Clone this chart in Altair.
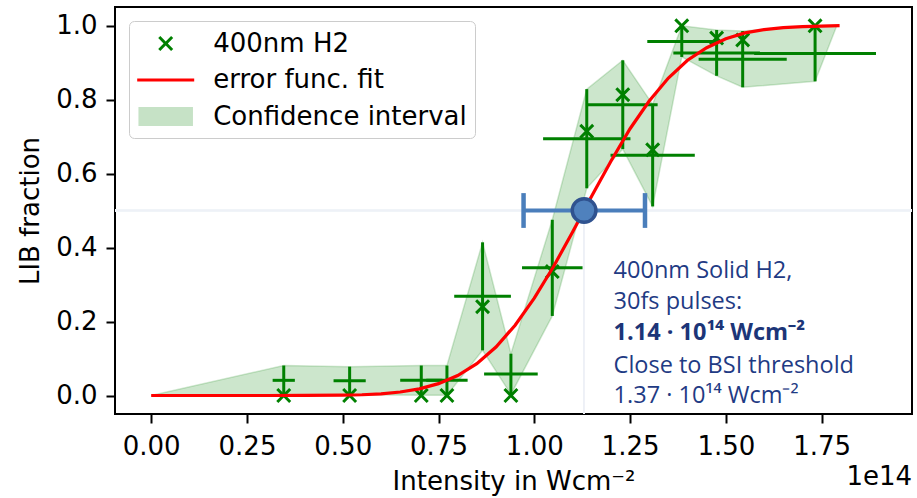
import altair as alt
import pandas as pd

# ---- measured data (intensity in units of 1e14 W/cm^2) ----
x_vals   = [0.346, 0.518, 0.705, 0.772, 0.865, 0.939, 1.047, 1.137, 1.231, 1.309, 1.385, 1.476, 1.544, 1.733]
marker_y = [0.0, 0.0, 0.0, 0.0, 0.24, 0.0, 0.335, 0.714, 0.813, 0.664, 0.999, 0.966, 0.961, 0.999]
bar_y    = [0.041, 0.040, 0.041, 0.041, 0.268, 0.058, 0.345, 0.694, 0.786, 0.649, 0.957, 0.926, 0.909, 0.924]
y_err    = [0.040, 0.038, 0.040, 0.040, 0.146, 0.055, 0.130, 0.134, 0.120, 0.138, 0.042, 0.062, 0.076, 0.075]
x_err    = [0.029, 0.042, 0.055, 0.054, 0.074, 0.070, 0.079, 0.114, 0.091, 0.110, 0.090, 0.113, 0.115, 0.159]

# confidence band end points
band_start_x, band_start_y = 0.0, 0.0
band_end_x, band_end_y = 1.79, 1.0

# error function fit
fit_x = [0.0, 0.1, 0.2, 0.3, 0.4, 0.5, 0.55, 0.6, 0.65, 0.7, 0.75, 0.8, 0.85, 0.9, 0.95,
         1.0, 1.05, 1.1, 1.15, 1.2, 1.25, 1.3, 1.35, 1.4, 1.45, 1.5, 1.55, 1.6, 1.65, 1.7, 1.797]
fit_y = [0.0, 0.0, 0.0, 0.0, 0.0002, 0.001, 0.002, 0.0044, 0.0095, 0.018, 0.032, 0.054, 0.086, 0.131, 0.19,
         0.263, 0.348, 0.442, 0.539, 0.633, 0.721, 0.796, 0.858, 0.906, 0.94, 0.964, 0.98, 0.989, 0.994, 0.997, 0.9995]

# threshold marker
thr_x, thr_y = 1.13, 0.5
thr_lo, thr_hi = 0.972, 1.289

legend_labels = ["400nm H2", "error func. fit", "Confidence interval"]
x_ticks = [0.0, 0.25, 0.5, 0.75, 1.0, 1.25, 1.5, 1.75]
y_ticks = [0.0, 0.2, 0.4, 0.6, 0.8, 1.0]

ann_lines = ["400nm Solid H2,", "30fs pulses:", "1.14 · 10¹⁴ Wcm⁻²", "Close to BSI threshold", "1.37 · 10¹⁴ Wcm⁻²"]
ann_y = [0.336, 0.252, 0.170, 0.080, -0.001]
ann_bold = [False, False, True, False, False]
ann_x = 1.207

# ---- tables ----
pts = pd.DataFrame({
    "x": x_vals, "my": marker_y, "by": bar_y,
    "lo": [b - e for b, e in zip(bar_y, y_err)],
    "hi": [b + e for b, e in zip(bar_y, y_err)],
    "xlo": [x - e for x, e in zip(x_vals, x_err)],
    "xhi": [x + e for x, e in zip(x_vals, x_err)],
    "label": legend_labels[0],
})
band = pd.DataFrame({
    "x": [band_start_x] + x_vals + [band_end_x],
    "lo": [band_start_y] + [float(v) for v in pts["lo"]] + [band_end_y],
    "hi": [band_start_y] + [float(v) for v in pts["hi"]] + [band_end_y],
})
fit = pd.DataFrame({"x": fit_x, "y": fit_y})
caps = pd.DataFrame({"x": [thr_lo, thr_hi], "y": [thr_y - 0.047] * 2, "y2": [thr_y + 0.047] * 2})
thr = pd.DataFrame({"x": [thr_x], "xlo": [thr_lo], "xhi": [thr_hi], "y": [thr_y]})
ann = pd.DataFrame({"x": ann_x, "y": ann_y, "text": ann_lines, "bold": ann_bold})

xs = alt.Scale(domain=[-0.0945, 1.986], nice=False, zero=False)
ys = alt.Scale(domain=[-0.05, 1.05], nice=False, zero=False)

x_axis = alt.Axis(values=x_ticks, format=".2f", title="Intensity in Wcm⁻²",
                  labelPadding=10, titlePadding=9)
y_axis = alt.Axis(values=y_ticks, format=".1f", title="LIB fraction",
                  labelPadding=9, titlePadding=12)

X_PATH = ("M0,-0.146L0.371,-0.517L0.517,-0.371L0.146,0L0.517,0.371L0.371,0.517"
          "L0,0.146L-0.371,0.517L-0.517,0.371L-0.146,0L-0.517,-0.371L-0.371,-0.517Z")
LINE_PATH = "M-1.966,-0.103L1.966,-0.103L1.966,0.103L-1.966,0.103Z"
RECT_PATH = "M-1.88,-0.655L1.88,-0.655L1.88,0.655L-1.88,0.655Z"

leg = alt.Legend(title=None, orient="top-left", offset=14, padding=8,
                 fillColor="rgba(255,255,255,0.85)", strokeColor="#cccccc", cornerRadius=5,
                 labelFont="DejaVu Sans", labelFontSize=26, labelColor="black", labelLimit=500,
                 symbolSize=841, symbolStrokeWidth=0, symbolOpacity=1,
                 symbolOffset=14.2, labelOffset=33, rowPadding=8.5)

axes_layer = alt.Chart(pts).mark_point(opacity=0).encode(
    x=alt.X("x:Q", scale=xs, axis=x_axis),
    y=alt.Y("my:Q", scale=ys, axis=y_axis),
)

faint_h = alt.Chart(pts).mark_rule(color="#eef1f7", strokeWidth=1.5).encode(
    y=alt.datum(thr_y))
faint_v = alt.Chart(pts).mark_rule(color="#eef1f7", strokeWidth=1.5).encode(
    x=alt.datum(thr_x), y=alt.datum(thr_y), y2=alt.datum(-0.05))

band_area = alt.Chart(band).mark_area(color="#008000", opacity=0.2).encode(
    x=alt.X("x:Q", scale=xs),
    y=alt.Y("lo:Q", scale=ys),
    y2=alt.Y2("hi:Q"),
)
band_top = alt.Chart(band).mark_line(color="#008000", opacity=0.18, strokeWidth=1.5).encode(
    x=alt.X("x:Q", scale=xs), y=alt.Y("hi:Q", scale=ys))
band_bot = alt.Chart(band).mark_line(color="#008000", opacity=0.18, strokeWidth=1.5).encode(
    x=alt.X("x:Q", scale=xs), y=alt.Y("lo:Q", scale=ys))

vbars = alt.Chart(pts).mark_rule(color="#008000", strokeWidth=3).encode(
    x=alt.X("x:Q", scale=xs), y=alt.Y("lo:Q", scale=ys), y2="hi:Q")
hbars = alt.Chart(pts).mark_rule(color="#008000", strokeWidth=3).encode(
    x=alt.X("xlo:Q", scale=xs), x2="xhi:Q", y=alt.Y("by:Q", scale=ys))

markers = alt.Chart(pts).mark_point(filled=True, size=841, opacity=1, strokeWidth=0).encode(
    x=alt.X("x:Q", scale=xs),
    y=alt.Y("my:Q", scale=ys),
    color=alt.Color("label:N", scale=alt.Scale(domain=legend_labels,
                                               range=["#008000", "#ff0000", "#c6e2c6"]), legend=leg),
    shape=alt.Shape("label:N", scale=alt.Scale(domain=legend_labels,
                                               range=[X_PATH, LINE_PATH, RECT_PATH]), legend=leg),
)

fit_line = alt.Chart(fit).mark_line(color="#ff0000", strokeWidth=3.2).encode(
    x=alt.X("x:Q", scale=xs), y=alt.Y("y:Q", scale=ys))

thr_bar = alt.Chart(thr).mark_rule(color="#4a7ebb", strokeWidth=4).encode(
    x=alt.X("xlo:Q", scale=xs), x2="xhi:Q", y=alt.Y("y:Q", scale=ys))
thr_caps = alt.Chart(caps).mark_rule(color="#4a7ebb", strokeWidth=4.5).encode(
    x=alt.X("x:Q", scale=xs), y=alt.Y("y:Q", scale=ys), y2="y2:Q")
thr_pt = alt.Chart(thr).mark_point(filled=True, shape="circle", size=560, opacity=1,
                                   fill="#4f81bd", stroke="#2f528f", strokeWidth=3.5).encode(
    x=alt.X("x:Q", scale=xs), y=alt.Y("y:Q", scale=ys))

ann_font = "Open Sans"
ann_size = 23.5
ann_norm = alt.Chart(ann).transform_filter("!datum.bold").mark_text(
    align="left", baseline="middle", font=ann_font, fontSize=ann_size, color="#1f3b84").encode(
    x=alt.X("x:Q", scale=xs), y=alt.Y("y:Q", scale=ys), text="text:N")
ann_bold_l = alt.Chart(ann).transform_filter("datum.bold").mark_text(
    align="left", baseline="middle", font=ann_font, fontSize=ann_size, fontWeight="bold", color="#1c3578").encode(
    x=alt.X("x:Q", scale=xs), y=alt.Y("y:Q", scale=ys), text="text:N")

offset_txt = alt.Chart(thr).mark_text(
    align="right", baseline="middle", font="DejaVu Sans", fontSize=26, color="black").encode(
    x=alt.value(797), y=alt.value(470), text=alt.value("1e14"))

chart = alt.layer(
    axes_layer, faint_h, faint_v, band_area, band_top, band_bot, vbars, hbars, markers, fit_line,
    thr_bar, thr_caps, thr_pt, ann_norm, ann_bold_l, offset_txt
).properties(
    width=797, height=407,
    autosize=alt.AutoSizeParams(type="none"),
    padding={"left": 115, "top": 7, "right": 5, "bottom": 84},
    background="white",
).configure_view(
    stroke="black", strokeWidth=2
).configure_axis(
    domain=False, grid=False, tickColor="black", tickWidth=2, tickSize=9,
    labelFont="DejaVu Sans", labelFontSize=26, labelColor="black",
    titleFont="DejaVu Sans", titleFontSize=26, titleFontWeight="normal", titleColor="black",
)

chart.save("out.html", embed_options={"renderer": "svg", "actions": False})
